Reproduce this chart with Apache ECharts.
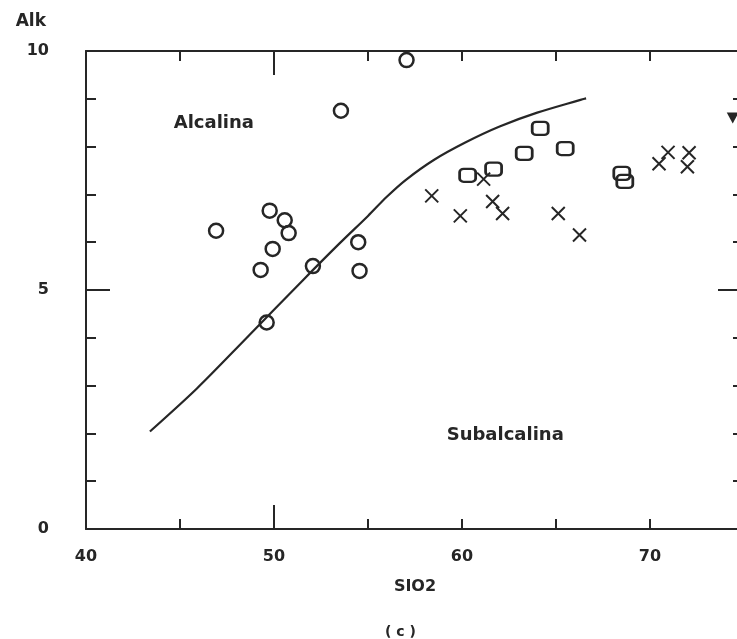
<!DOCTYPE html>
<html>
<head>
<meta charset="utf-8">
<script src="https://cdn.jsdelivr.net/npm/echarts@6/dist/echarts.min.js"></script>
<style>html,body{margin:0;padding:0;background:#fff;overflow:hidden;width:737px;height:639px;}#c{width:747px;height:639px;}</style>
</head>
<body>
<div id="c"></div>
<script>
// ---- data ----
const circles = [[46.92,6.24],[49.77,6.66],[50.57,6.46],[50.78,6.19],[49.93,5.86],[49.29,5.42],[52.07,5.50],[54.48,6.00],[54.55,5.40],[49.61,4.32],[53.56,8.75],[57.05,9.81]];
const squares = [[60.30,7.40],[61.68,7.53],[63.31,7.86],[64.16,8.38],[65.49,7.96],[68.50,7.44],[68.66,7.27]];
const crosses = [[58.39,6.97],[59.91,6.55],[61.15,7.32],[61.63,6.85],[62.16,6.60],[65.12,6.60],[66.25,6.15],[70.48,7.64],[70.96,7.88],[72.08,7.87],[71.99,7.58]];
const triangles = [[74.40,8.60]];
const divider = [[43.4,2.04],[45.9,2.94],[48.5,3.98],[51.5,5.19],[53.5,5.98],[55.0,6.55],[56.0,6.95],[57.0,7.30],[58.5,7.72],[60.2,8.09],[62.0,8.42],[64.0,8.71],[66.6,9.01]];
const fieldLabels = [{name:'Alcalina', value:[46.8,8.49]},{name:'Subalcalina', value:[62.3,1.95]}];
const xMin = 40, xMax = 75, xStep = 5, xLabelStep = 10, xMajorTicks = [50];
const yMin = 0, yMax = 10, yStep = 1, yLabelStep = 5, yMajorTicks = [5];
const xName = 'SIO2', yName = 'Alk', caption = '( c )';

const ink = '#262626';
const font = 'DejaVu Sans';
const chart = echarts.init(document.getElementById('c'));

function ax(pos, show, custom, len, isX) {
  const a = {
    type:'value', position:pos,
    min: isX ? xMin : yMin, max: isX ? xMax : yMax, interval: isX ? xStep : yStep,
    axisLine:{show:show, onZero:false, lineStyle:{color:ink, width:2}},
    splitLine:{show:false},
    axisTick:{show:true, inside:true, length:len, lineStyle:{color:ink, width:2}},
    axisLabel:{show:false}
  };
  if (custom) a.axisTick.customValues = custom;
  return a;
}
const xb = ax('bottom', true, null, 10, true);
xb.axisLabel = {show:true, margin:20, color:ink, fontFamily:font, fontWeight:'bold', fontSize:16,
  formatter: v => (v % xLabelStep === 0 ? String(v) : '')};
xb.name = xName; xb.nameLocation = 'middle'; xb.nameGap = 50;
xb.nameTextStyle = {color:ink, fontFamily:font, fontWeight:'bold', fontSize:16};
const yl = ax('left', true, null, 10, false);
yl.axisLabel = {show:true, margin:37, color:ink, fontFamily:font, fontWeight:'bold', fontSize:16,
  formatter: v => (v % yLabelStep === 0 ? String(v) : '')};
yl.name = yName; yl.nameLocation = 'end'; yl.nameGap = 29;
yl.nameTextStyle = {color:ink, fontFamily:font, fontWeight:'bold', fontSize:17, align:'right', verticalAlign:'middle', padding:[0,40,0,0]};

const crossPath = 'path://M0,0L10,10M10,0L0,10';
const hollow = {color:'rgba(255,255,255,0)', borderColor:ink, borderWidth:2.5, opacity:1};

chart.setOption({
  backgroundColor:'#ffffff',
  animation:false,
  title:{text:caption, left:380, top:620, textStyle:{color:ink, fontFamily:font, fontWeight:'bold', fontSize:14}},
  grid:{left:86, right:2, top:51, bottom:110, containLabel:false},
  xAxis:[xb, ax('top', true, null, 10, true), ax('bottom', false, xMajorTicks, 24, true), ax('top', false, xMajorTicks, 24, true)],
  yAxis:[yl, ax('right', true, null, 11, false), ax('left', false, yMajorTicks, 24, false), ax('right', false, yMajorTicks, 26, false)],
  series:[
    {type:'line', data:divider, smooth:0.3, symbol:'none', lineStyle:{color:ink, width:2.2}, silent:true},
    {type:'scatter', data:circles, symbol:'circle', symbolSize:14, itemStyle:hollow},
    {type:'scatter', data:squares, symbol:'roundRect', symbolSize:[16,13], itemStyle:hollow},
    {type:'scatter', data:crosses, symbol:crossPath, symbolSize:13,
      itemStyle:{color:'rgba(255,255,255,0)', borderColor:ink, borderWidth:2, opacity:1}},
    {type:'scatter', data:triangles, symbol:'triangle', symbolRotate:180, symbolSize:[12,11],
      itemStyle:{color:ink, opacity:1}},
    {type:'scatter', data:fieldLabels, symbolSize:0, silent:true, itemStyle:{opacity:1},
      label:{show:true, position:'inside', formatter: p => p.name, color:ink, fontFamily:font, fontWeight:'bold', fontSize:18}}
  ]
});
</script>
</body>
</html>
